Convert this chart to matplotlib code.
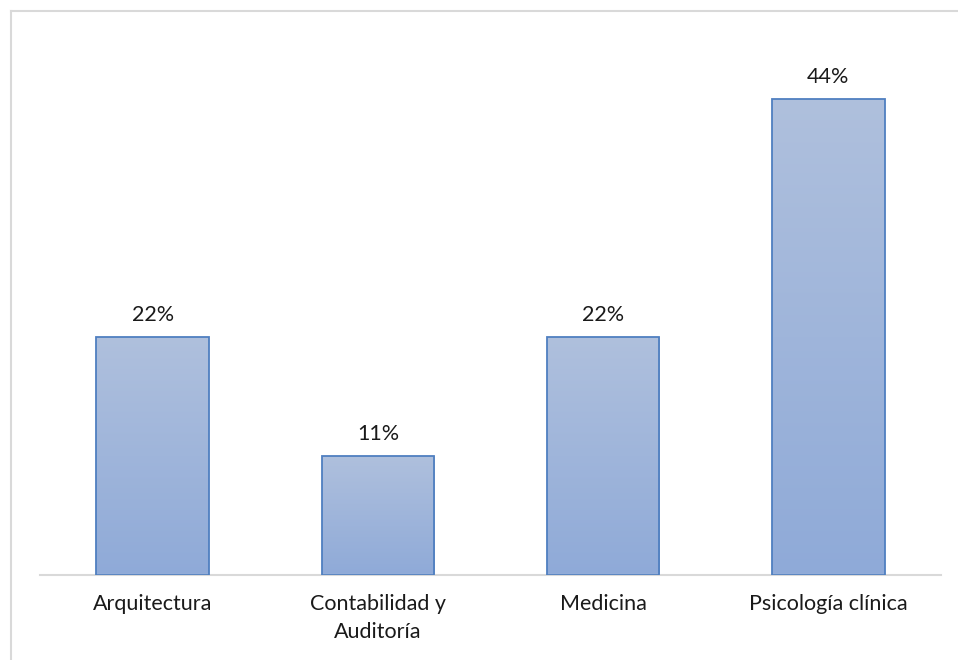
import numpy as np
import matplotlib.pyplot as plt
from matplotlib.colors import LinearSegmentedColormap
from matplotlib.patches import Rectangle
from matplotlib.lines import Line2D

# Data
categories = ['Arquitectura', 'Contabilidad y\nAuditoría', 'Medicina', 'Psicología clínica']
values = [0.2222, 0.1111, 0.2222, 0.4444]
labels = ['22%', '11%', '22%', '44%']

plt.rcParams['font.family'] = ['Lato', 'DejaVu Sans']

fig = plt.figure(figsize=(9.58, 6.6), dpi=100)
ax = fig.add_axes([40 / 958, 85 / 660, 901 / 958, 541 / 660])

# gradient: lighter at top, darker at bottom
cmap = LinearSegmentedColormap.from_list('grad', ['#8FAAD8', '#AFC0DD'])
grad = np.linspace(0, 1, 256).reshape(-1, 1)

x = np.arange(len(categories))
width = 0.5
bars = ax.bar(x, values, width=width, color='none', edgecolor='#4F7FC0', linewidth=1.3, zorder=3)

for bar, lab in zip(bars, labels):
    x0 = bar.get_x()
    h = bar.get_height()
    im = ax.imshow(grad, cmap=cmap, origin='lower', aspect='auto',
                   extent=[x0, x0 + width, 0, h], zorder=2)
    clip = Rectangle((x0, 0), width, h, transform=ax.transData)
    im.set_clip_path(clip)
    ax.text(x0 + width / 2, h + 0.011, lab, ha='center', va='bottom', fontsize=15.5, color='#1a1a1a')

ax.set_xlim(-0.5, len(categories) - 0.5)
ax.set_ylim(0, 0.505)
ax.set_xticks(x)
ax.set_xticklabels(categories, fontsize=15.5, color='#1a1a1a', linespacing=1.45)
ax.tick_params(axis='x', length=0, pad=14)
ax.set_yticks([])

for s in ['top', 'right', 'left']:
    ax.spines[s].set_visible(False)
ax.spines['bottom'].set_color('#D9D9D9')
ax.spines['bottom'].set_linewidth(1.5)

# chart area frame (left and top edges)
fig.add_artist(Line2D([10.5 / 958, 10.5 / 958], [0, 1 - 10.5 / 660], color='#D9D9D9', lw=1.5))
fig.add_artist(Line2D([10.5 / 958, 1], [1 - 10.5 / 660, 1 - 10.5 / 660], color='#D9D9D9', lw=1.5))

fig.savefig('out.png', dpi=100)
